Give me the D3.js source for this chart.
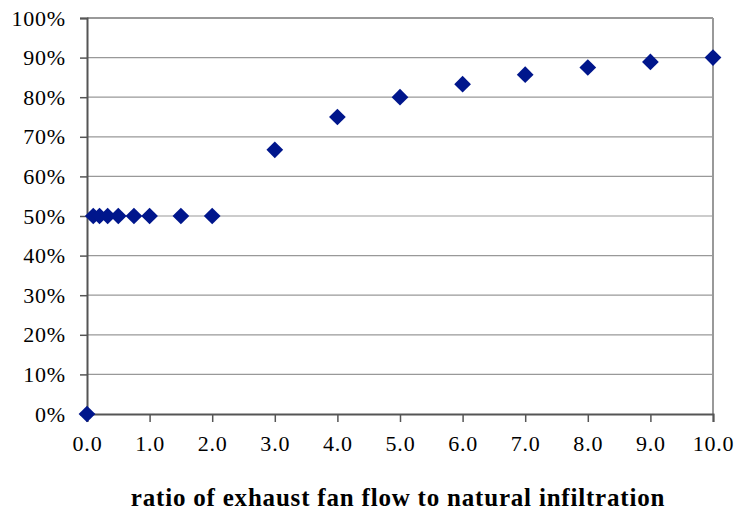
<!DOCTYPE html>
<html>
<head>
<meta charset="utf-8">
<script src="https://cdn.jsdelivr.net/npm/d3@7"></script>
<style>
  body { margin: 0; background: #fff; }
</style>
</head>
<body>
<div id="container"></div>
<script>
// ratio of exhaust fan flow to natural infiltration
const ratios = [0, 0.1, 0.2, 0.33, 0.5, 0.75, 1, 1.5, 2, 3, 4, 5, 6, 7, 8, 9, 10];
// fraction (percent)
const fractions = [0, 50, 50, 50, 50, 50, 50, 50, 50, 66.7, 75, 80, 83.3, 85.7, 87.5, 88.9, 90];

const xTicks = [0, 1, 2, 3, 4, 5, 6, 7, 8, 9, 10];
const yTicks = [0, 10, 20, 30, 40, 50, 60, 70, 80, 90, 100];
const xTitle = "ratio of exhaust fan flow to natural infiltration";

const serif =
  "'Times New Roman', 'Liberation Serif', Tinos, 'DejaVu Serif', 'Noto Serif', FreeSerif, Times, serif";

const width = 736;
const height = 519;
const margin = { top: 18, right: 23, bottom: 105, left: 87 };
const innerW = width - margin.left - margin.right;
const innerH = height - margin.top - margin.bottom;

const svg = d3
  .select("#container")
  .append("svg")
  .attr("width", width)
  .attr("height", height)
  .style("font-family", serif);

const g = svg
  .append("g")
  .attr("transform", "translate(" + margin.left + "," + margin.top + ")");

const xScale = d3.scaleLinear().domain([0, 10]).range([0, innerW]);
const yScale = d3.scaleLinear().domain([0, 100]).range([innerH, 0]);

// horizontal gridlines
g.selectAll(".grid")
  .data(yTicks.slice(1))
  .enter()
  .append("line")
  .attr("x1", 0)
  .attr("x2", innerW)
  .attr("y1", (d) => yScale(d))
  .attr("y2", (d) => yScale(d))
  .attr("stroke", "#999")
  .attr("stroke-width", 1.2);

// plot frame top + right
g.append("line")
  .attr("x1", 0).attr("x2", innerW)
  .attr("y1", 0).attr("y2", 0)
  .attr("stroke", "#999").attr("stroke-width", 2);
g.append("line")
  .attr("x1", innerW).attr("x2", innerW)
  .attr("y1", 0).attr("y2", innerH)
  .attr("stroke", "#999").attr("stroke-width", 2);

// axes
const xAxis = g
  .append("g")
  .attr("transform", `translate(0, ${innerH})`)
  .call(
    d3.axisBottom(xScale)
      .tickValues(xTicks)
      .tickSize(8)
      .tickPadding(13)
      .tickFormat(d3.format(".1f"))
  );

const yAxis = g
  .append("g")
  .call(
    d3.axisLeft(yScale)
      .tickValues(yTicks)
      .tickSize(7)
      .tickPadding(14)
      .tickFormat((d) => d + "%")
  );

[xAxis, yAxis].forEach((ax) => {
  ax.attr("font-family", null).attr("font-size", 22);
  ax.select(".domain").attr("stroke", "#555").attr("stroke-width", 2);
  ax.selectAll(".tick line").attr("stroke", "#555").attr("stroke-width", 1.5);
  ax.selectAll("text")
    .attr("fill", "#000")
    .style("font-family", serif)
    .style("letter-spacing", "0.8px");
});

// markers
g.selectAll(".pt")
  .data(ratios.map((r, i) => [r, fractions[i]]))
  .enter()
  .append("path")
  .attr("d", d3.symbol().type(d3.symbolSquare).size(140))
  .attr("transform", (d) => `translate(${xScale(d[0])},${yScale(d[1])}) rotate(45)`)
  .attr("fill", "#00168c");

// x axis title
svg
  .append("text")
  .attr("x", margin.left + innerW / 2 - 2)
  .attr("y", 506)
  .attr("text-anchor", "middle")
  .attr("font-size", 25)
  .attr("font-weight", "bold")
  .style("letter-spacing", "0.8px")
  .style("font-family", serif)
  .text(xTitle);
</script>
</body>
</html>
